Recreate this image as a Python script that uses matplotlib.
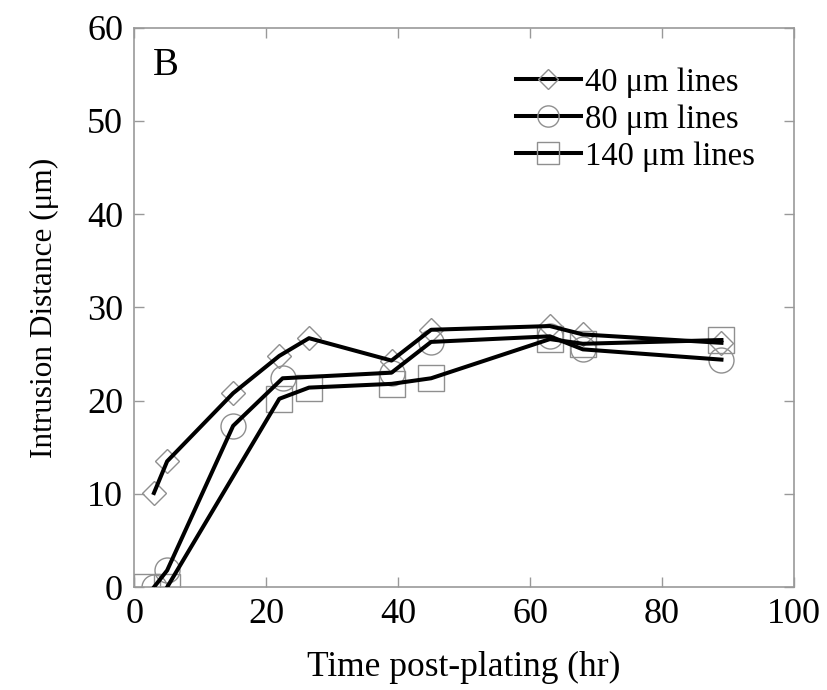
import matplotlib
matplotlib.use("Agg")
import matplotlib.pyplot as plt
from matplotlib.lines import Line2D

plt.rcParams['font.family'] = ['Liberation Serif', 'DejaVu Serif']

# data
t40 = [3, 5, 15, 22, 26.5, 39, 45, 63, 68, 89]
d40 = [10.1, 13.5, 20.8, 24.8, 26.7, 24.3, 27.6, 28.0, 27.1, 26.2]

t80 = [3, 5, 15, 22.5, 39, 45, 63, 68, 89]
d80 = [0, 1.8, 17.3, 22.4, 23.0, 26.3, 26.9, 25.5, 24.4]

t140 = [2, 5, 22, 26.5, 39, 45, 63, 68, 89]
d140 = [0, 0, 20.2, 21.4, 21.8, 22.4, 26.6, 26.1, 26.5]

labels = ["40 \u03bcm lines", "80 \u03bcm lines", "140 \u03bcm lines"]
markers = ["D", "o", "s"]
msizes = [12, 18, 19]

fig = plt.figure(figsize=(8.28, 6.9), dpi=100)
ax = fig.add_axes([0.162, 0.149, 0.797, 0.811])

mk_col = "#8f8f8f"
series = [(t40, d40), (t80, d80), (t140, d140)]
for (t, d), m, ms in zip(series, markers, msizes):
    ax.plot(t, d, linestyle="none", marker=m, ms=ms, mfc="none",
            mec=mk_col, mew=1.0, zorder=2)

# the 140 line starts at the 5 hr point
line_start = [0, 0, 1]
for (t, d), s in zip(series, line_start):
    ax.plot(t[s:], d[s:], color="black", lw=2.9, zorder=3,
            solid_joinstyle="round")

handles = [Line2D([], [], color="black", lw=2.9, marker=m, ms=ms * 0.85,
                  mfc="none", mec=mk_col, mew=1.0)
           for m, ms in zip(markers, msizes)]
ax.legend(handles, labels, loc="upper right", bbox_to_anchor=(0.975, 0.97),
          frameon=False, fontsize=23.5, handlelength=2.0, handletextpad=0.12,
          labelspacing=0.2, borderaxespad=0.3)

ax.text(0.028, 0.965, "B", transform=ax.transAxes, fontsize=28,
        va="top", ha="left")

ax.set_xlim(0, 100)
ax.set_ylim(0, 60)
ax.set_xticks([0, 20, 40, 60, 80, 100])
ax.set_yticks([0, 10, 20, 30, 40, 50, 60])
ax.set_xlabel("Time post-plating (hr)", fontsize=25.5, labelpad=14)
ax.set_ylabel("Intrusion Distance (\u03bcm)", fontsize=22.5, labelpad=20)

for sp in ax.spines.values():
    sp.set_color("#999999")
    sp.set_linewidth(1.2)
ax.tick_params(direction="in", length=7, width=1.0, color="#999999",
               labelsize=26, top=True, right=True, pad=8)

fig.savefig("out.png", dpi=100)
